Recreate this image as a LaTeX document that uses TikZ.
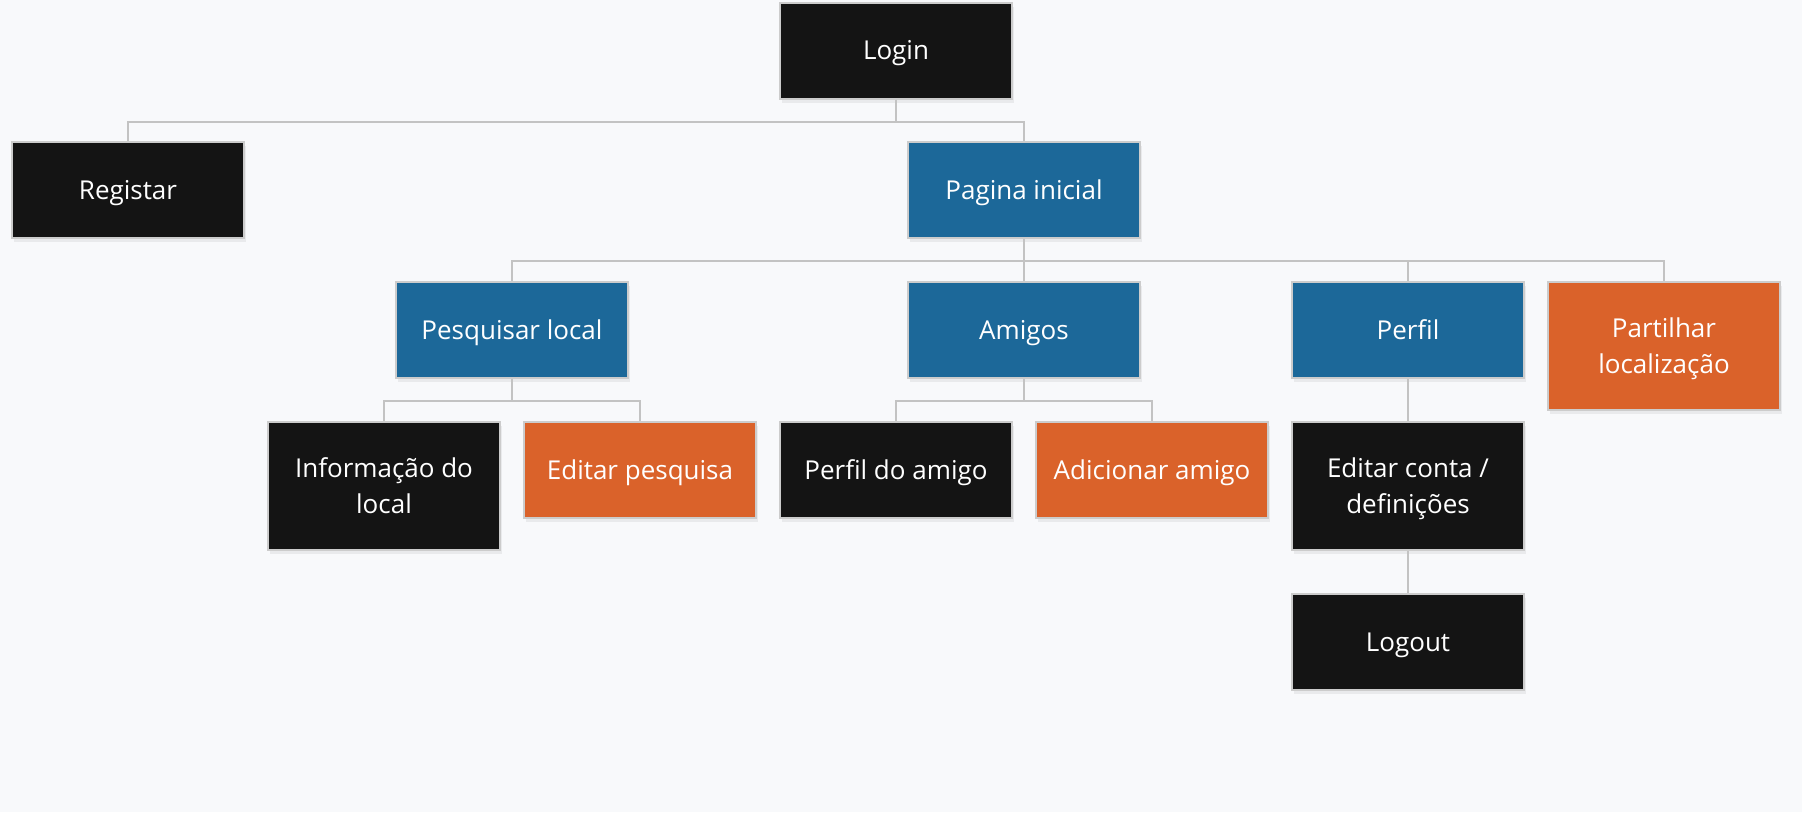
\documentclass[tikz,border=0pt]{standalone}
\usepackage{fontspec}
\setmainfont{Open Sans}
\usetikzlibrary{shadows}
\definecolor{bgc}{HTML}{F8F9FB}
\definecolor{nblack}{HTML}{141414}
\definecolor{nblue}{HTML}{1C6899}
\definecolor{norange}{HTML}{DA622A}
\definecolor{nborder}{HTML}{CCCCCC}
\definecolor{conncol}{HTML}{C3C3C3}
\tikzset{
  box/.style={draw=nborder, line width=2pt, text=white, minimum width=232pt, minimum height=96pt,
    align=center, inner sep=0pt, font=\fontsize{26}{36}\selectfont,
    text height=18.6pt, text depth=0pt,
    drop shadow={opacity=0.12, shadow xshift=2pt, shadow yshift=-4pt}},
  tallbox/.style={box, minimum height=128pt, text height=54.6pt, text depth=0pt},
  kblack/.style={fill=nblack},
  kblue/.style={fill=nblue},
  korange/.style={fill=norange},
  conn/.style={draw=conncol, line width=2pt}
}
\begin{document}
\begin{tikzpicture}[x=1pt,y=-1pt]
\fill[bgc] (0,0) rectangle (1802,812);
\useasboundingbox (0,0) rectangle (1802,812);
% row 1
\node[box,kblack] (login) at (896,50.5) {Login};
% row 2
\node[box,kblack] (registar) at (128,190) {Registar};
\node[box,kblue] (pagina) at (1024,190) {Pagina inicial};
% row 3
\node[box,kblue] (pesquisar) at (512,330) {Pesquisar local};
\node[box,kblue] (amigos) at (1024,330) {Amigos};
\node[box,kblue] (perfil) at (1408,330) {Perfil};
\node[tallbox,korange] (partilhar) at (1664,346) {Partilhar\\localização};
% row 4
\node[tallbox,kblack] (info) at (384,486) {Informação do\\local};
\node[box,korange] (editpesq) at (640,470) {Editar pesquisa};
\node[box,kblack] (perfilamigo) at (896,470) {Perfil do amigo};
\node[box,korange] (adicionar) at (1152,470) {Adicionar amigo};
\node[tallbox,kblack] (editconta) at (1408,486) {Editar conta /\\definições};
% row 5
\node[box,kblack] (logout) at (1408,642) {Logout};
% connectors
\draw[conn] (login.south) -- ++(0,22) -| (registar.north);
\draw[conn] (login.south) -- ++(0,22) -| (pagina.north);
\draw[conn] (pagina.south) -- ++(0,22) -| (pesquisar.north);
\draw[conn] (pagina.south) -- (amigos.north);
\draw[conn] (pagina.south) -- ++(0,22) -| (perfil.north);
\draw[conn] (pagina.south) -- ++(0,22) -| (partilhar.north);
\draw[conn] (pesquisar.south) -- ++(0,22) -| (info.north);
\draw[conn] (pesquisar.south) -- ++(0,22) -| (editpesq.north);
\draw[conn] (amigos.south) -- ++(0,22) -| (perfilamigo.north);
\draw[conn] (amigos.south) -- ++(0,22) -| (adicionar.north);
\draw[conn] (perfil.south) -- (editconta.north);
\draw[conn] (editconta.south) -- (logout.north);
\end{tikzpicture}
\end{document}
